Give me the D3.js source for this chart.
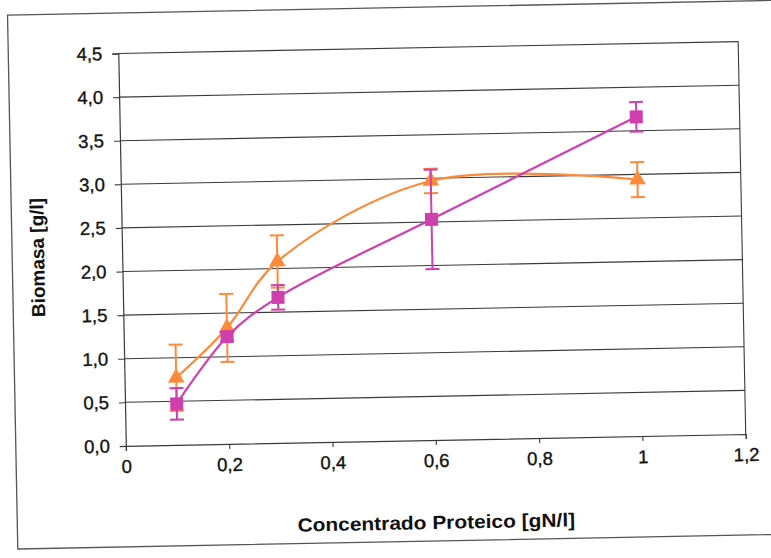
<!DOCTYPE html>
<html>
<head>
<meta charset="utf-8">
<script src="https://cdn.jsdelivr.net/npm/d3@7"></script>
<style>
  html, body { margin: 0; padding: 0; background: #fff; }
  svg { display: block; }
  text { font-family: "Liberation Sans", Arial, sans-serif; fill: #111; }
</style>
</head>
<body>
<svg id="chart" width="771" height="558"></svg>
<script>
// ---- data ----
const concentrations = [0.1, 0.2, 0.3, 0.6, 1.0];
const pinkValues   = [0.47, 1.23, 1.67, 2.53, 3.66];
const pinkErrors   = [0.18, 0.05, 0.14, 0.57, 0.17];
const orangeValues = [0.77, 1.33, 2.08, 2.97, 2.94];
const orangeErrors = [0.38, 0.39, 0.30, 0.14, 0.20];
const xTicks = [0, 0.2, 0.4, 0.6, 0.8, 1.0, 1.2];
const yTicks = [0, 0.5, 1.0, 1.5, 2.0, 2.5, 3.0, 3.5, 4.0, 4.5];
const xTitle = "Concentrado Proteico [gN/l]";
const yTitle = "Biomasa [g/l]";

// ---- layout ----
const plot = { left: 122, right: 742, top: 47.5, bottom: 440 };
const pinkColor = "#cf3fae";
const orangeColor = "#ff8a3a";
const gridColor = "#3a3a3a";

const svg = d3.select("#chart");
const root = svg.append("g").attr("transform", "rotate(-1.1, 432, 244)");

// outer frame
root.append("rect")
  .attr("x", 12).attr("y", 7).attr("width", 900).attr("height", 534)
  .attr("fill", "none").attr("stroke", "#555").attr("stroke-width", 1.3);

const x = d3.scaleLinear().domain([0, 1.2]).range([plot.left, plot.right]);
const y = d3.scaleLinear().domain([0, 4.5]).range([plot.bottom, plot.top]);

const fmt = v => d3.format("~g")(v).replace(".", ",");
const fmtY = v => d3.format(".1f")(v).replace(".", ",");

// gridlines
root.append("g").selectAll("line").data(yTicks.filter(d => d > 0)).join("line")
  .attr("x1", plot.left).attr("x2", plot.right)
  .attr("y1", d => y(d)).attr("y2", d => y(d))
  .attr("stroke", gridColor).attr("stroke-width", 1.1);

// plot area right border
root.append("line")
  .attr("x1", plot.right).attr("x2", plot.right)
  .attr("y1", plot.top).attr("y2", plot.bottom)
  .attr("stroke", gridColor).attr("stroke-width", 1.1);

// axes
const yAxis = d3.axisLeft(y).tickValues(yTicks).tickFormat(fmtY).tickSize(6).tickPadding(10);
const xAxis = d3.axisBottom(x).tickValues(xTicks).tickFormat(fmt).tickSize(5).tickPadding(9);

const gy = root.append("g").attr("transform", `translate(${plot.left},0)`).call(yAxis);
const gx = root.append("g").attr("transform", `translate(0,${plot.bottom})`).call(xAxis);
[gx, gy].forEach(g => {
  g.select(".domain").attr("stroke", gridColor).attr("stroke-width", 1.2);
  g.selectAll(".tick line").attr("stroke", gridColor).attr("stroke-width", 1.1);
  g.selectAll(".tick text")
    .style("font-family", '"Liberation Sans", Arial, sans-serif')
    .style("font-size", "18.5px").attr("fill", "#111")
    .attr("stroke", "#111").attr("stroke-width", 0.35);
});

// axis titles
root.append("text")
  .attr("transform", "translate(431,529) scale(1.1,1)")
  .attr("text-anchor", "middle")
  .style("font-size", "19px").style("font-weight", "bold")
  .text(xTitle);
root.append("text")
  .attr("transform", "translate(44,250) rotate(-90)")
  .attr("text-anchor", "middle")
  .style("font-size", "19px").style("font-weight", "bold")
  .text(yTitle);

// series
function drawSeries(values, errors, color, shape) {
  const pts = concentrations.map((c, i) => ({ c, v: values[i], e: errors[i] }));
  const g = root.append("g");
  const line = d3.line().x(d => x(d.c)).y(d => y(d.v)).curve(d3.curveCatmullRom.alpha(0.5));
  g.append("path").datum(pts).attr("d", line)
    .attr("fill", "none").attr("stroke", color).attr("stroke-width", 2.2);

  const eb = g.append("g").attr("stroke", color).attr("stroke-width", 2);
  eb.selectAll("line.v").data(pts).join("line").attr("class", "v")
    .attr("x1", d => x(d.c)).attr("x2", d => x(d.c))
    .attr("y1", d => y(d.v - d.e)).attr("y2", d => y(d.v + d.e));
  eb.selectAll("line.top").data(pts).join("line").attr("class", "top")
    .attr("x1", d => x(d.c) - 7).attr("x2", d => x(d.c) + 7)
    .attr("y1", d => y(d.v + d.e)).attr("y2", d => y(d.v + d.e));
  eb.selectAll("line.bot").data(pts).join("line").attr("class", "bot")
    .attr("x1", d => x(d.c) - 7).attr("x2", d => x(d.c) + 7)
    .attr("y1", d => y(d.v - d.e)).attr("y2", d => y(d.v - d.e));

  const sym = d3.symbol().type(shape).size(shape === d3.symbolSquare ? 169 : 120);
  g.selectAll("path.m").data(pts).join("path").attr("class", "m")
    .attr("transform", d => `translate(${x(d.c)},${y(d.v)})`)
    .attr("d", sym).attr("fill", color);
}

drawSeries(orangeValues, orangeErrors, orangeColor, d3.symbolTriangle);
drawSeries(pinkValues, pinkErrors, pinkColor, d3.symbolSquare);
</script>
</body>
</html>
